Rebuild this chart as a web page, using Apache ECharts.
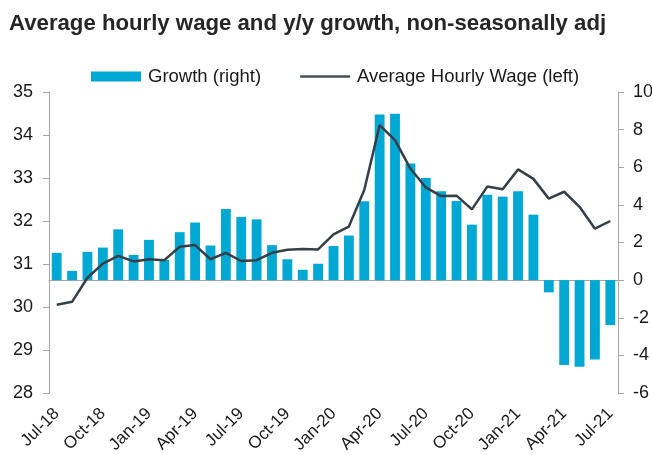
<!DOCTYPE html>
<html>
<head>
<meta charset="utf-8">
<script src="https://cdn.jsdelivr.net/npm/echarts@6/dist/echarts.min.js"></script>
<style>
html,body{margin:0;padding:0;background:#fff;}
#c{width:652px;height:455px;}
</style>
</head>
<body>
<div id="c"></div>
<script>
var months = ['Jul-18','Aug-18','Sep-18','Oct-18','Nov-18','Dec-18','Jan-19','Feb-19','Mar-19','Apr-19','May-19','Jun-19',
  'Jul-19','Aug-19','Sep-19','Oct-19','Nov-19','Dec-19','Jan-20','Feb-20','Mar-20','Apr-20','May-20','Jun-20',
  'Jul-20','Aug-20','Sep-20','Oct-20','Nov-20','Dec-20','Jan-21','Feb-21','Mar-21','Apr-21','May-21','Jun-21','Jul-21'];
var growth = [1.45,0.49,1.5,1.73,2.7,1.34,2.14,1.08,2.55,3.06,1.84,3.78,
  3.36,3.23,1.86,1.11,0.55,0.87,1.81,2.37,4.19,8.8,8.84,6.2,
  5.43,4.72,4.21,2.95,4.54,4.44,4.72,3.48,-0.65,-4.51,-4.61,-4.22,-2.39];
var wage = [30.05,30.12,30.68,31.01,31.19,31.06,31.11,31.09,31.40,31.44,31.11,31.26,
  31.07,31.09,31.26,31.33,31.35,31.34,31.69,31.87,32.72,34.23,33.88,33.22,
  32.78,32.58,32.59,32.27,32.80,32.74,33.20,32.98,32.52,32.68,32.33,31.82,32.0];
var leftTicks = {min:28, max:35, interval:1};
var rightTicks = {min:-6, max:10, interval:2};

var chart = echarts.init(document.getElementById('c'));
var font = 'Liberation Sans, Arial, sans-serif';
var lineIcon = 'path://M0,0 L0.01,0 L0,0.01 Z M0,3.8 L50,3.8 L50,6.2 L0,6.2 Z M0,10 L0.01,10 L0,9.99 Z';
chart.setOption({
  animation:false,
  textStyle:{fontFamily:font},
  title:{text:'Average hourly wage and y/y growth, non-seasonally adj', left:4, top:8,
    textStyle:{fontFamily:font, fontWeight:'bold', fontSize:22.2, color:'#262626'}},
  legend:{top:62, left:86, itemGap:39, itemWidth:50, itemHeight:10,
    textStyle:{fontFamily:font, fontSize:18.5, color:'#1a1a1a', padding:[0,0,0,2]},
    data:[{name:'Growth (right)', icon:'rect', itemStyle:{color:'#00a8d3'}},
          {name:'Average Hourly Wage (left)', icon:lineIcon, itemStyle:{color:'#4a5259'}}]},
  grid:{left:49, right:34, top:92, bottom:62, outerBoundsMode:'none'},
  xAxis:{type:'category', data:months, boundaryGap:true,
    axisLine:{lineStyle:{color:'#a6a6a6', width:1}},
    axisTick:{interval:2, length:6, lineStyle:{color:'#a6a6a6'}},
    axisLabel:{interval:2, rotate:45, margin:18, fontSize:17, color:'#1a1a1a', fontFamily:font}},
  yAxis:[
    {type:'value', min:leftTicks.min, max:leftTicks.max, interval:leftTicks.interval, position:'left',
     splitLine:{show:false}, axisLine:{show:true, lineStyle:{color:'#a6a6a6'}},
     axisTick:{show:true, length:6, lineStyle:{color:'#a6a6a6'}},
     axisLabel:{fontSize:18, color:'#1a1a1a', margin:16, fontFamily:font}},
    {type:'value', min:rightTicks.min, max:rightTicks.max, interval:rightTicks.interval, position:'right',
     splitLine:{show:false}, axisLine:{show:true, lineStyle:{color:'#a6a6a6'}},
     axisTick:{show:true, length:6, lineStyle:{color:'#a6a6a6'}},
     axisLabel:{fontSize:18, color:'#1a1a1a', margin:15, fontFamily:font}}
  ],
  series:[
    {name:'Growth (right)', type:'bar', yAxisIndex:1, data:growth, barCategoryGap:'36%',
     itemStyle:{color:'#00a8d3'}},
    {name:'Average Hourly Wage (left)', type:'line', yAxisIndex:0, data:wage, symbol:'none',
     lineStyle:{color:'#363f47', width:2.5}, itemStyle:{color:'#363f47'}}
  ]
});
</script>
</body>
</html>
